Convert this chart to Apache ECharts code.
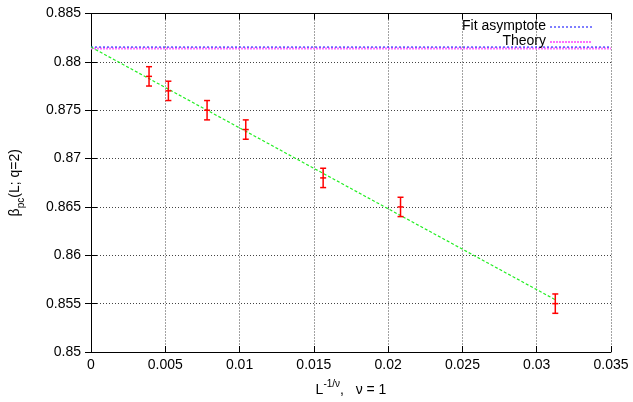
<!DOCTYPE html>
<html>
<head>
<meta charset="utf-8">
<script src="https://cdn.jsdelivr.net/npm/echarts@6/dist/echarts.min.js"></script>
<style>
  html, body { margin: 0; padding: 0; background: #fff; }
  #chart { width: 633px; height: 402px; }
</style>
</head>
<body>
<div id="chart"></div>
<script>
// Inverse system size 1/L (nu = 1) and measured pseudo-critical couplings
const invL = [1 / 256, 1 / 192, 1 / 128, 1 / 96, 1 / 64, 1 / 48, 1 / 32];
const beta = [0.8785, 0.8770, 0.8750, 0.8730, 0.8680, 0.8650, 0.8550];
const betaErr = [0.0010, 0.0010, 0.0010, 0.0010, 0.0010, 0.0010, 0.0010];

// Linear fit beta(L) = a + b / L, drawn over the data range
const fitA = 0.88153;
const fitB = -0.836;
const fitRange = [0, 1 / 32];

// Exact value ln(1 + sqrt 2)
const theory = 0.881374;

// Axis ticks
const xTicks = [0, 0.005, 0.01, 0.015, 0.02, 0.025, 0.03, 0.035];
const yTicks = [0.85, 0.855, 0.86, 0.865, 0.87, 0.875, 0.88, 0.885];

// Key entries
const keyLabels = ['Fit asymptote', 'Theory'];

const FONT = '"Liberation Sans", Arial, sans-serif';
const BLUE = '#2a2aff';
const PINK = '#ff70ff';

const points = invL.map((x, i) => [x, beta[i], betaErr[i]]);
const fitLine = fitRange.map(x => [x, fitA + fitB * x]);
const xMin = xTicks[0], xMax = xTicks[xTicks.length - 1];

const asymStyle = { color: BLUE, width: 1.2, type: [2, 2] };
const theoryStyle = { color: PINK, width: 2, type: [2, 1] };

const chart = echarts.init(document.getElementById('chart'), null, { renderer: 'canvas' });

const gridLine = { show: true, lineStyle: { color: '#444', type: [1, 2], width: 1 } };
const boxLine = { show: true, lineStyle: { color: '#000', width: 1 } };
const tick = { show: true, inside: true, length: 6, lineStyle: { color: '#000' } };

// Key in the upper right corner: label right-aligned, line sample to its right
const keyStyles = [asymStyle, theoryStyle];
const keyGraphics = [];
keyLabels.forEach((label, i) => {
  const cy = 27 + i * 15;
  keyGraphics.push({
    type: 'text', right: 633 - 546, top: cy - 8, z: 10,
    style: { text: label, font: '14px ' + FONT, fill: '#000', textAlign: 'right' }
  });
  const ls = keyStyles[i];
  keyGraphics.push({
    type: 'line', z: 9,
    shape: { x1: 550, y1: cy, x2: 592, y2: cy },
    style: { stroke: ls.color, lineWidth: ls.width, lineDash: ls.type }
  });
});

chart.setOption({
  animation: false,
  backgroundColor: '#fff',
  grid: { left: 90.5, right: 22, top: 13.5, bottom: 44, containLabel: false },
  graphic: keyGraphics,
  xAxis: [
    {
      type: 'value', min: xMin, max: xMax, interval: 0.005,
      axisLine: boxLine,
      axisTick: tick,
      axisLabel: { fontFamily: FONT, fontSize: 14, color: '#000', margin: 6,
        formatter: v => String(+v.toFixed(3)) },
      splitLine: gridLine,
      name: '{t|L}{sup|-1/ν}{t|,   ν = 1}',
      nameLocation: 'middle',
      nameGap: 27,
      nameTextStyle: {
        rich: {
          t: { fontFamily: FONT, fontSize: 14, color: '#000', lineHeight: 22, verticalAlign: 'middle' },
          sup: { fontFamily: FONT, fontSize: 10, color: '#000', lineHeight: 10, verticalAlign: 'top' }
        }
      }
    },
    {
      type: 'value', position: 'top', min: xMin, max: xMax, interval: 0.005,
      axisLine: boxLine,
      axisTick: tick,
      axisLabel: { show: false },
      splitLine: { show: false }
    }
  ],
  yAxis: [
    {
      type: 'value', min: yTicks[0], max: yTicks[yTicks.length - 1], interval: 0.005,
      axisLine: boxLine,
      axisTick: tick,
      axisLabel: { fontFamily: FONT, fontSize: 14, color: '#000', margin: 10,
        formatter: v => String(+v.toFixed(3)) },
      splitLine: gridLine,
      name: '{t|β}{sub|pc}{t|(L; q=2)}',
      nameLocation: 'middle',
      nameRotate: 90,
      nameGap: 65,
      nameTextStyle: {
        rich: {
          t: { fontFamily: FONT, fontSize: 14, color: '#000', lineHeight: 22, verticalAlign: 'middle' },
          sub: { fontFamily: FONT, fontSize: 10, color: '#000', lineHeight: 10, verticalAlign: 'bottom' }
        }
      }
    },
    {
      type: 'value', position: 'right', min: yTicks[0], max: yTicks[yTicks.length - 1], interval: 0.005,
      axisLine: boxLine,
      axisTick: tick,
      axisLabel: { show: false },
      splitLine: { show: false }
    }
  ],
  series: [
    {
      name: keyLabels[1],
      type: 'line',
      data: [[xMin, theory], [xMax, theory]],
      symbol: 'none',
      lineStyle: theoryStyle,
      z: 2
    },
    {
      name: keyLabels[0],
      type: 'line',
      data: [[xMin, fitA], [xMax, fitA]],
      symbol: 'none',
      lineStyle: asymStyle,
      z: 3
    },
    {
      name: 'fit',
      type: 'line',
      data: fitLine,
      symbol: 'none',
      lineStyle: { color: '#22ee22', width: 1.2, type: [3, 2] },
      z: 4
    },
    {
      name: 'data',
      type: 'custom',
      data: points,
      z: 5,
      renderItem: (params, api) => {
        const x = api.value(0), y = api.value(1), e = api.value(2);
        const c = api.coord([x, y]);
        const lo = api.coord([x, y - e]);
        const hi = api.coord([x, y + e]);
        const cap = 3;
        const style = { stroke: '#ff0000', lineWidth: 1.5, fill: null };
        return {
          type: 'group',
          children: [
            { type: 'line', shape: { x1: c[0], y1: hi[1], x2: c[0], y2: lo[1] }, style },
            { type: 'line', shape: { x1: c[0] - cap, y1: hi[1], x2: c[0] + cap, y2: hi[1] }, style },
            { type: 'line', shape: { x1: c[0] - cap, y1: lo[1], x2: c[0] + cap, y2: lo[1] }, style },
            { type: 'line', shape: { x1: c[0] - cap, y1: c[1], x2: c[0] + cap, y2: c[1] }, style }
          ]
        };
      }
    }
  ]
});
</script>
</body>
</html>
